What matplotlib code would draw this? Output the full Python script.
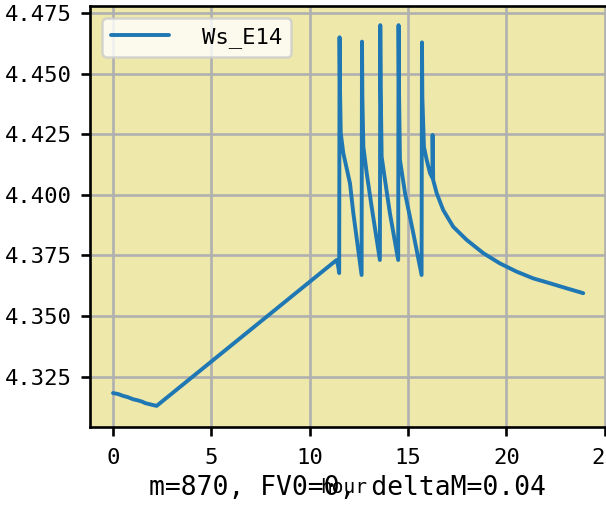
import matplotlib
matplotlib.use("Agg")
import matplotlib.pyplot as plt

hours = [0.0, 0.25, 0.52, 0.75, 1.03, 1.25, 1.46, 1.65, 1.8, 2.0, 2.22,
         11.37, 11.45, 11.5, 11.52, 11.54, 11.58, 11.71, 12.05, 12.22, 12.64,
         12.66, 12.68, 12.73, 12.90, 13.15, 13.57,
         13.59, 13.61, 13.66, 13.83, 14.08, 14.50,
         14.52, 14.54, 14.59, 14.85, 15.27, 15.69,
         15.71, 15.73, 15.81, 15.95, 16.12, 16.24,
         16.25, 16.28, 16.46, 16.79, 17.3, 17.98, 18.83, 19.67, 20.52,
         21.37, 22.21, 23.07, 23.91]
voltage = [4.3182, 4.3178, 4.3170, 4.3165, 4.3156, 4.3152, 4.3147, 4.3140, 4.3137, 4.3133, 4.3129,
           4.3731, 4.3705, 4.3677, 4.4650, 4.4450, 4.4254, 4.4172, 4.4047, 4.3924, 4.3669,
           4.4632, 4.4400, 4.4198, 4.4089, 4.3951, 4.3731,
           4.4700, 4.4450, 4.4157, 4.4061, 4.3924, 4.3731,
           4.4700, 4.4450, 4.4144, 4.4006, 4.3841, 4.3669,
           4.4629, 4.4400, 4.4198, 4.4144, 4.4089, 4.4070,
           4.4247, 4.4061, 4.4006, 4.3937, 4.3868, 4.3814, 4.3759, 4.3717, 4.3683,
           4.3655, 4.3635, 4.3614, 4.3594]
series_label = "Ws_E14"
x_label = "hour"
note = "m=870, FV0=0, deltaM=0.04"
xticks = [0, 5, 10, 15, 20, 25]
yticks = [4.325, 4.350, 4.375, 4.400, 4.425, 4.450, 4.475]

plt.rcParams['font.family'] = ['DejaVu Sans Mono']

fig = plt.figure(figsize=(6.06, 5.08), dpi=100)
ax = fig.add_axes([90/606, 1-426.7/508, (609-90)/606, (426.7-6)/508])
ax.set_facecolor('palegoldenrod')
ax.plot(hours, voltage, color='#1f77b4', lw=2.8, label=series_label,
        solid_capstyle='round', solid_joinstyle='round')
ax.set_xlim(-1.17, 25.22)
ax.set_ylim(4.3043, 4.4779)
ax.set_xticks(xticks)
ax.set_yticks(yticks)
ax.set_yticklabels([f"{v:.3f}" for v in yticks])
ax.grid(True, color='#b0b0b0', lw=1.9)
ax.set_axisbelow(True)
for s in ax.spines.values():
    s.set_linewidth(1.9)
ax.tick_params(axis='both', length=6.5, width=1.9, labelsize=16, pad=7)
ax.tick_params(axis='x', pad=9)
ax.set_xlabel(x_label, fontsize=14)
ax.xaxis.set_label_coords(0.489, -0.157)
ax.xaxis.label.set_va('baseline')
leg = ax.legend(loc='upper left', fontsize=16, handlelength=2.6, handletextpad=1.5,
                borderaxespad=0.55, borderpad=0.4)
leg.get_frame().set_linewidth(1.8)
fig.text(347.5/606, 1-495/508, note, ha='center', va='baseline', fontsize=19)

fig.savefig('out.png', dpi=100)
